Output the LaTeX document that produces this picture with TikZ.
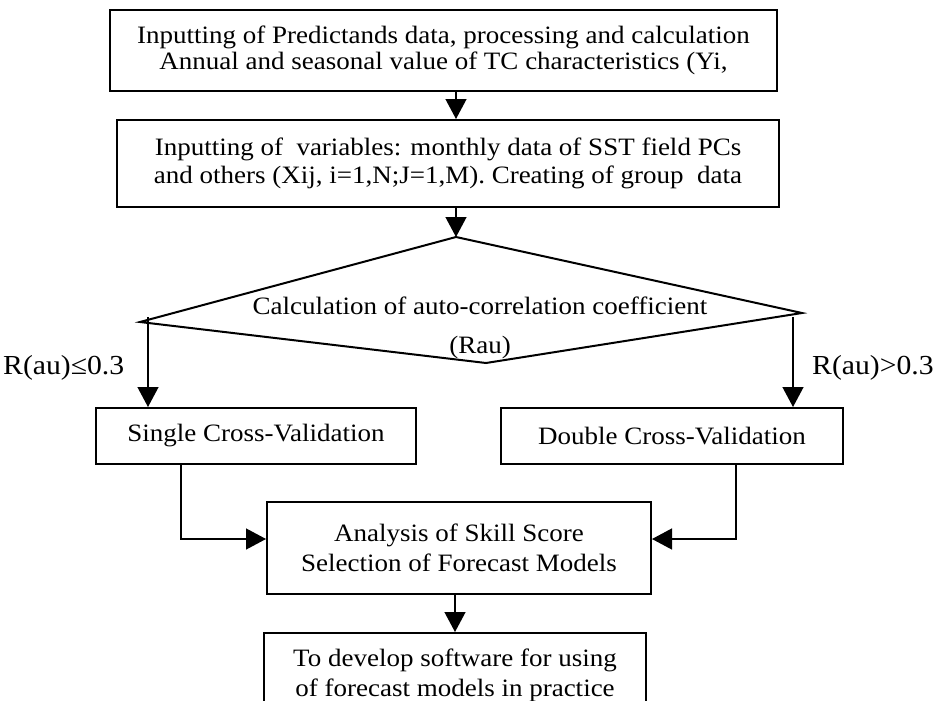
\documentclass[tikz,border=0pt]{standalone}
\usepackage{fontspec}
\setmainfont{Liberation Serif}[FakeStretch=1.08]
\usetikzlibrary{shapes,arrows,arrows.meta,positioning,calc}

\begin{document}
\begin{tikzpicture}[
    x=1pt, y=-1pt,
    font=\fontsize{25}{25}\selectfont,
    box/.style={rectangle, draw, line width=2pt, align=center, inner sep=0pt},
    cond/.style={anchor=west, inner sep=0pt, font=\fontsize{27.5}{28}\selectfont},
    arrow/.style={-{Triangle[length=20pt,width=21pt]}, line width=1.3pt}
]
    \useasboundingbox (0,0) rectangle (934,701);
    \clip (0,0) rectangle (934,701);

    % Input boxes
    \node[box, minimum width=667pt, minimum height=81pt] (predictand) at (443.5,50.5) {Inputting of Predictands data, processing and calculation\\[1pt]Annual and seasonal value of TC characteristics (Yi,};
    \node[box, minimum width=662pt, minimum height=87pt, below=27pt of predictand, xshift=4.5pt] (variables) {Inputting of~ variables: monthly data of SST field PCs\\[3pt]and others (Xij, i=1,N;J=1,M). Creating of group~ data};

    % Decision
    \coordinate (dtop) at (456,237);
    \coordinate (dleft) at (140,322);
    \coordinate (dright) at (802,313);
    \coordinate (dbot) at (486,363);
    \draw[line width=2pt] (dtop) -- (dright) -- (dbot) -- (dleft) -- cycle;
    \node[align=center, inner sep=0pt] (rau) at (480,328) {Calculation of auto-correlation coefficient\\[14pt](Rau)};
    \coordinate (lstart) at (148,317);
    \coordinate (rstart) at (793,317);

    % Validation
    \node[box, minimum width=320pt, minimum height=56pt] (single) at (256,436) {Single Cross-Validation};
    \node[box, minimum width=342pt, minimum height=56pt] (double) at (672,436) {Double Cross-Validation};
    \node[cond] (low) at (3,368) {R(au)≤0.3};
    \node[cond] (high) at (812,368) {R(au)>0.3};

    % Results
    \node[box, minimum width=384pt, minimum height=92pt] (skill) at (459,548) {Analysis of Skill Score\\[5pt]Selection of Forecast Models};
    \node[box, minimum width=382pt, minimum height=84pt] (software) at (455,675) {To develop software for using\\[5pt]of forecast models in practice};

    % Edges
    \draw[arrow] (predictand.south -| dtop) -- (variables.north -| dtop);
    \draw[arrow] (variables.south -| dtop) -- (dtop);
    \draw[arrow] (lstart) -- (lstart |- single.north);
    \draw[arrow] (rstart) -- (rstart |- double.north);
    \draw[arrow] ([xshift=-75pt]single.south) |- ([yshift=9pt]skill.west);
    \draw[arrow] ([xshift=64pt]double.south) |- ([yshift=9pt]skill.east);
    \draw[arrow] (skill.south -| software.north) -- (software.north);
\end{tikzpicture}
\end{document}
